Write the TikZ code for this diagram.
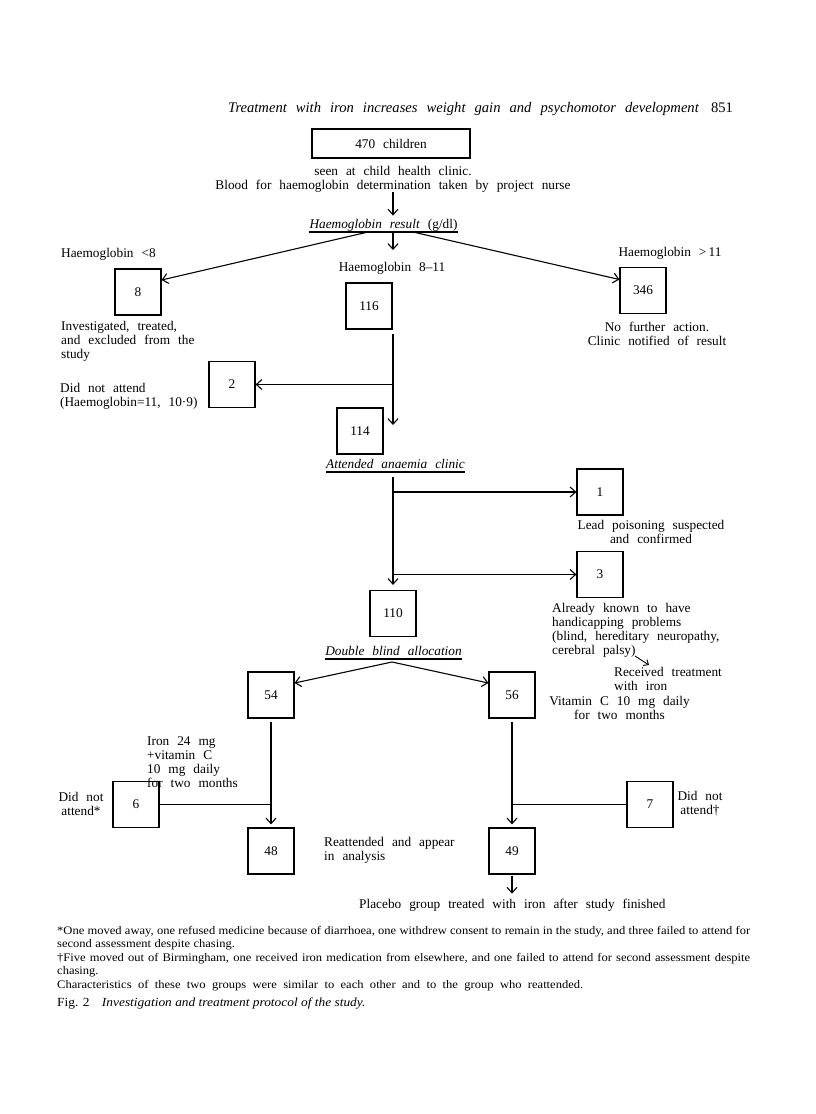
\documentclass[tikz,border=0pt]{standalone}
\usepackage{fontspec}
\setmainfont{Liberation Serif}
\newfontfamily\fnfont[FakeStretch=1.08]{Liberation Serif}
\usetikzlibrary{arrows.meta}
\setlength\parindent{0pt}
\newcommand\fs{\fontsize{13.3}{14}\selectfont\spaceskip=0.6em plus 0.1em minus 0.1em\relax}
\newcommand\hfs{\fontsize{14.6}{16}\selectfont\spaceskip=0.62em plus 0.1em minus 0.1em\relax}
\newcommand\ffs{\fnfont\fontsize{11.6}{13.5}\selectfont\spaceskip=0.3em plus 0.3em minus 0.05em\relax}
\newcommand\fcs{\fnfont\fontsize{12.4}{14}\selectfont}
\begin{document}
\begin{tikzpicture}[x=1pt,y=-1pt,
  box/.style={draw,line width=1.2pt,minimum width=46pt,minimum height=46pt,inner sep=0pt,font=\fs},
  txt/.style={inner sep=0pt,font=\fs},
  arr/.style={line width=1.1pt,-{Straight Barb[length=5.5pt,width=10pt]}},
  ln/.style={line width=1.1pt}]
\useasboundingbox (0,0) rectangle (816,1114);
\fill[white] (0,0) rectangle (816,1114);

% header
\node[txt,anchor=base west,font=\hfs] (hdr) at (228,112) {\textit{Treatment with iron increases weight gain and psychomotor development}\hspace{12pt}851};

% top
\node[box,minimum width=158pt,minimum height=29pt] (b470) at (391,143.5) {470 children};
\node[txt,anchor=base] (seen) at (393,175) {seen at child health clinic.};
\node[txt,anchor=base] (blood) at (393,189) {Blood for haemoglobin determination taken by project nurse};
\node[txt,anchor=base] (hr) at (383.5,228) {\textit{Haemoglobin result} (g/dl)};
\draw[ln] ([yshift=-4pt]hr.base west) -- ([yshift=-4pt]hr.base east);
\coordinate (hrc) at (393,232);
\draw[arr] (blood.south -| hrc) -- ([yshift=3pt]hrc |- hr.north);

\node[txt,anchor=base west] (lo) at (61,257) {Haemoglobin <8};
\node[txt,anchor=base] (mid) at (392,271) {Haemoglobin 8–11};
\node[txt,anchor=base] (hi) at (670,256) {Haemoglobin >\,11};

\node[box] (b8) at (138,292) {8};
\node[box] (b116) at (369,306) {116};
\node[box] (b346) at (643,290.5) {346};

\draw[arr] ([xshift=-25pt]hrc) -- ([yshift=12pt]b8.east);
\draw[arr] (hrc) -- ++(0,18);
\draw[arr] ([xshift=20pt]hrc) -- ([yshift=11pt]b346.west);

\node[txt,anchor=north west,align=left] (inv) at (61,321.5) {Investigated, treated,\\and excluded from the\\study};
\node[txt,anchor=north,align=center] (nfa) at (657,321.5) {No further action.\\Clinic notified of result};

% 116 -> 114, 2
\node[box] (b2) at (232,384.5) {2};
\node[box] (b114) at (360,431) {114};
\coordinate (v1) at (393,334);
\coordinate (v1e) at (393,425);
\draw[arr] (v1) -- (v1e);
\draw[arr] (v1 |- b2) -- (b2.east);
\node[txt,anchor=north west,align=left] (dna) at (60,383.5) {Did not attend\\(Haemoglobin=11, 10·9)};

% anaemia clinic
\node[txt,anchor=base] (aac) at (395.5,468) {\textit{Attended anaemia clinic}};
\draw[ln] ([yshift=-4pt]aac.base west) -- ([yshift=-4pt]aac.base east);
\coordinate (v2) at (393,477);
\node[box] (b110) at (393,613.5) {110};
\node[box] (b1) at (600,492) {1};
\node[box] (b3) at (600,574.5) {3};
\draw[arr] (v2) -- ([yshift=5pt]b110.north);
\draw[arr] (v2 |- b1) -- (b1.west);
\draw[arr] (v2 |- b3) -- (b3.west);

\node[txt,anchor=north,align=center] (lead) at (651,520.5) {Lead poisoning suspected\\and confirmed};
\node[txt,anchor=north west,align=left] (ak) at (552,603.5) {Already known to have\\handicapping problems\\(blind, hereditary neuropathy,\\cerebral palsy)};
\coordinate (pa) at (635,656);
\coordinate (pb) at (649,665);
\draw[line width=0.9pt,-{Straight Barb[length=4pt,width=7pt]}] (pa) -- (pb);
\node[txt,anchor=north west,align=left] (rti) at (614,667.5) {Received treatment\\with iron};
\node[txt,anchor=north,align=center] (vit) at (619.5,696.5) {Vitamin C 10 mg daily\\for two months};

% allocation
\node[txt,anchor=base] (dba) at (393.5,655) {\textit{Double blind allocation}};
\draw[ln] ([yshift=-4pt]dba.base west) -- ([yshift=-4pt]dba.base east);
\coordinate (apx) at (392,662);
\node[box] (b54) at (271,695) {54};
\node[box] (b56) at (512,695) {56};
\draw[arr] (apx) -- ([yshift=12pt]b54.east);
\draw[arr] (apx) -- ([yshift=12pt]b56.west);

\node[box] (b48) at (271,851) {48};
\node[box] (b49) at (512,851) {49};
\draw[arr] ([yshift=-3pt]b54.south) -- ([yshift=3pt]b48.north);
\draw[arr] ([yshift=-3pt]b56.south) -- ([yshift=3pt]b49.north);

\node[box] (b6) at (136,804.5) {6};
\node[box] (b7) at (650,804.5) {7};
\draw[ln] (b6.east) -- (b6.east -| b54);
\draw[ln] (b7.west) -- (b7.west -| b56);

\node[txt,anchor=north,align=center] (dn1) at (81,792.5) {Did not\\attend*};
\node[txt,anchor=north,align=center] (dn2) at (700,791) {Did not\\attend†};
\node[txt,anchor=north west,align=left] (iron) at (147,736.5) {Iron 24 mg\\+vitamin C\\10 mg daily\\for two months};
\node[txt,anchor=north west,align=left] (reat) at (324,837.5) {Reattended and appear\\in analysis};
\node[txt,anchor=base west] (plac) at (359,908) {Placebo group treated with iron after study finished};
\draw[arr] ([yshift=-1pt]b49.south) -- ([yshift=-19pt]b49.south);

% footnotes
\node[anchor=north west,inner sep=0pt,text width=693pt,align=justify,font=\ffs] (fn) at (57,926) {*One moved away, one refused medicine because of diarrhoea, one withdrew consent to remain in the study, and three failed to attend for\linebreak second assessment despite chasing.\\†Five moved out of Birmingham, one received iron medication from elsewhere, and one failed to attend for second assessment despite\linebreak chasing.\\{\spaceskip=0.55em plus 0.1em\relax Characteristics of these two groups were similar to each other and to the group who reattended.}};
\node[anchor=base west,inner sep=0pt,font=\fcs] (cap) at (57,1006) {Fig. 2\quad\textit{Investigation and treatment protocol of the study.}};
\end{tikzpicture}
\end{document}
